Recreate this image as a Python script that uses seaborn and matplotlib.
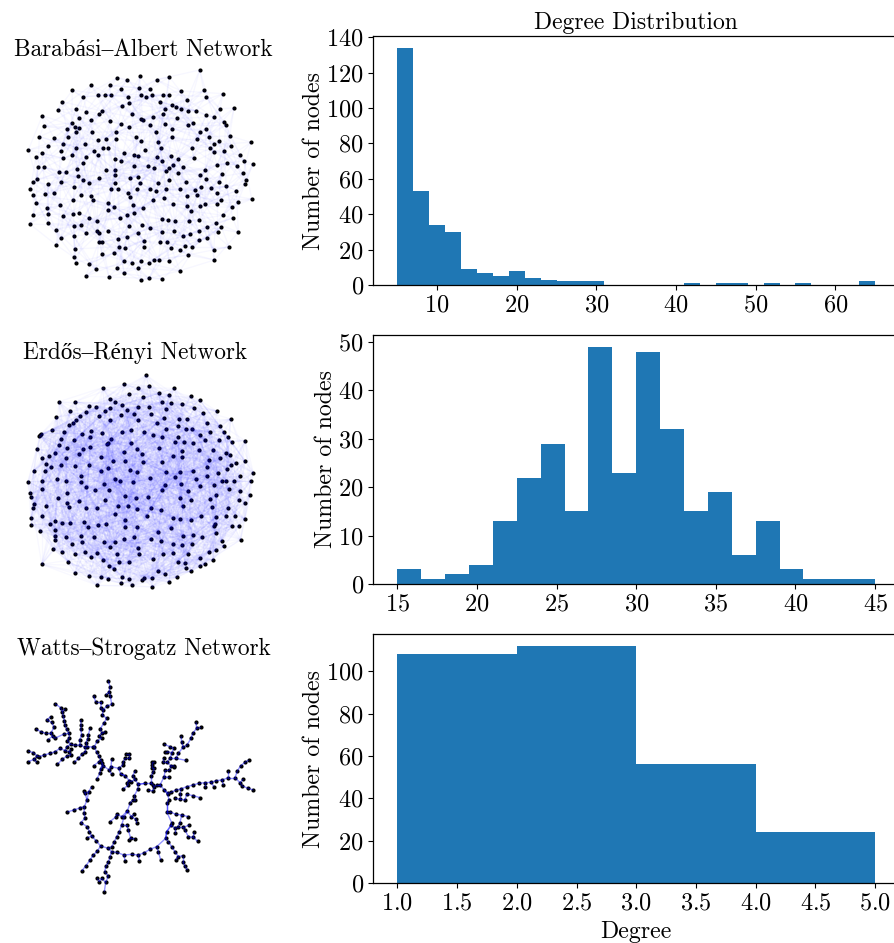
import numpy as np
import matplotlib
matplotlib.use("Agg")
import matplotlib.pyplot as plt
from matplotlib.collections import LineCollection
from matplotlib.ticker import MultipleLocator
import seaborn as sns

# Histogram counts
ba_edges = list(range(5, 67, 2))
ba_counts = [134, 53, 34, 30, 9, 7, 5, 8, 4, 3, 2, 2, 2, 0, 0, 0, 0, 0, 1, 0, 1, 1, 0, 1, 0, 1, 0, 0, 0, 2]
er_edges = [15 + 1.5 * i for i in range(21)]
er_counts = [3, 1, 2, 4, 13, 22, 29, 15, 49, 23, 48, 32, 15, 19, 6, 13, 3, 1, 1, 1]
ws_edges = [1, 2, 3, 4, 5]
ws_counts = [108, 112, 56, 24]

# Node positions (zoomed crop pixels)
ba_nodes = [(569,120),(322,143),(390,139),(478,141),(352,149),(440,149),(244,166),(299,166),(386,174),(333,177),(420,177),(187,181),(514,183),(581,181),
(265,194),(286,196),(303,196),(392,194),(425,196),(458,194),(476,194),(639,191),(354,200),(408,202),(219,200),(588,200),(531,209),(156,215),(358,220),(451,216),
(485,226),(335,227),(499,230),(512,236),(630,236),(672,234),(198,236),(143,240),(276,243),(228,246),(535,243),(558,242),(466,236),(268,252),(366,253),(97,257),
(588,255),(428,261),(459,252),(611,261),(208,265),(392,268),(398,270),(501,265),(244,271),(301,273),(185,278),(332,283),(421,284),(465,283),(550,280),(533,286),
(642,275),(647,286),(101,289),(196,292),(356,292),(170,297),(206,293),(487,298),(569,305),(588,298),(318,305),(247,307),(197,306),(437,305),(659,318),(88,320),
(132,324),(173,320),(379,322),(486,320),(288,326),(317,328),(265,330),(562,326),(596,320),(628,333),(613,343),(394,333),(444,337),(158,341),(225,341),(723,337),
(545,353),(114,349),(198,353),(278,353),(295,353),(601,355),(662,347),(453,355),(406,360),(55,360),(152,362),(251,364),(642,362),(611,366),(341,370),(96,370),
(187,375),(263,375),(373,375),(384,379),(482,377),(442,381),(691,375),(78,381),(227,380),(160,385),(316,387),(334,393),(505,387),(552,385),(457,394),(703,392),
(729,402),(219,400),(651,399),(621,404),(488,406),(476,413),(373,408),(415,408),(432,415),(519,412),(682,408),(84,412),(103,412),(201,417),(289,419),(315,421),
(586,419),(635,432),(700,429),(147,425),(169,425),(467,422),(505,430),(569,436),(203,438),(315,436),(383,441),(267,445),(361,443),(476,449),(527,457),(708,449),
(220,449),(81,447),(69,457),(152,457),(238,459),(314,459),(389,459),(443,458),(627,455),(588,447),(704,463),(114,463),(61,476),(192,472),(649,469),(572,472),
(603,474),(419,476),(556,480),(380,478),(304,478),(325,478),(467,478),(510,478),(437,482),(679,482),(133,489),(105,492),(69,496),(212,494),(354,489),(360,500),
(621,489),(560,496),(242,498),(189,510),(250,510),(461,505),(429,511),(530,498),(633,511),(725,507),(78,518),(295,520),(683,516),(489,523),(150,526),(622,523),
(370,526),(584,521),(571,528),(531,528),(312,530),(400,534),(111,534),(665,532),(295,541),(543,543),(190,551),(206,549),(351,555),(371,549),(69,555),(115,553),
(160,557),(639,556),(330,564),(238,564),(668,564),(261,572),(457,568),(474,570),(495,574),(536,572),(567,570),(115,580),(59,582),(191,587),(212,585),(617,578),
(358,589),(396,585),(634,591),(592,591),(421,595),(137,600),(191,618),(228,610),(261,603),(266,610),(295,603),(455,605),(493,602),(566,603),(685,607),(383,610),
(541,612),(623,607),(520,619),(352,622),(325,627),(154,625),(590,623),(568,631),(402,632),(266,637),(277,637),(449,637),(470,635),(139,645),(326,650),(345,654),
(401,652),(524,648),(547,650),(195,657),(484,655),(510,661),(611,660),(657,650),(276,673),(313,669),(534,675),(192,682),(431,690),(446,690),(393,692),(341,694),
(366,698),(478,694),(198,698),(613,690),(238,701),(417,700),(385,715),(320,715),(258,717),(510,722),(343,730),(227,739),(297,741),(417,745),(457,747),(392,751)]

er_nodes = [(409,121),(343,146),(417,153),(278,158),(385,158),(493,160),(476,180),(358,177),(447,175),(542,184),(400,186),(299,192),(569,195),(147,200),(196,200),
(316,200),(457,200),(484,205),(516,207),(238,212),(259,216),(299,220),(337,209),(384,217),(417,215),(553,220),(181,228),(229,230),(286,228),(352,224),(468,222),
(620,228),(373,236),(424,237),(333,241),(267,243),(209,243),(139,247),(578,235),(461,249),(508,252),(532,252),(383,256),(301,256),(197,254),(662,252),(190,263),
(177,271),(441,264),(590,263),(630,274),(503,274),(126,285),(162,292),(244,287),(215,297),(276,293),(337,290),(363,285),(402,290),(469,281),(547,281),(527,283),
(600,292),(94,296),(90,301),(88,304),(152,311),(428,300),(456,306),(569,301),(505,305),(641,291),(653,306),(304,313),(193,316),(240,307),(628,314),(585,314),
(666,321),(706,317),(146,331),(294,325),(362,323),(495,321),(522,320),(548,323),(291,328),(241,337),(220,342),(80,342),(170,340),(447,339),(381,341),(610,344),
(648,353),(134,353),(116,362),(208,358),(341,351),(397,357),(568,344),(515,347),(660,360),(95,369),(169,369),(272,367),(489,363),(515,366),(597,376),(631,370),
(677,384),(705,379),(107,386),(152,389),(238,389),(122,395),(346,378),(310,378),(400,381),(455,381),(295,400),(591,395),(652,402),(195,393),(662,391),(71,407),
(105,409),(360,404),(381,410),(272,409),(467,412),(509,411),(548,408),(623,414),(730,413),(214,423),(689,423),(590,423),(54,440),(97,438),(142,431),(169,437),
(314,431),(331,437),(370,442),(419,430),(496,426),(558,433),(636,438),(647,438),(673,438),(723,438),(212,442),(282,447),(466,450),(513,447),(229,456),(97,461),
(255,466),(296,465),(455,464),(535,468),(569,452),(613,449),(657,461),(691,467),(60,475),(64,487),(170,475),(344,483),(413,486),(619,481),(601,491),(510,488),
(720,481),(145,489),(207,497),(286,495),(379,490),(544,494),(688,495),(72,507),(170,503),(176,517),(108,512),(324,512),(353,512),(381,522),(229,519),(261,519),
(423,518),(452,526),(518,514),(607,517),(706,505),(655,518),(68,520),(95,543),(314,536),(410,543),(572,544),(617,547),(648,542),(676,542),(704,552),(63,550),
(489,549),(510,553),(543,554),(345,556),(223,561),(155,565),(181,563),(136,557),(120,566),(288,566),(263,570),(345,575),(381,577),(235,577),(64,569),(90,589),
(134,584),(611,574),(616,567),(665,574),(687,574),(445,592),(482,578),(617,593),(213,602),(168,605),(134,604),(135,614),(371,607),(253,607),(423,612),(343,613),
(692,614),(549,601),(520,603),(577,606),(635,618),(185,627),(217,621),(283,622),(314,620),(454,618),(490,628),(516,631),(546,626),(300,636),(130,643),(384,638),
(642,634),(155,652),(224,651),(261,653),(388,658),(244,665),(196,658),(490,654),(459,656),(534,656),(598,650),(618,645),(321,658),(279,675),(173,680),(430,671),
(571,670),(356,682),(328,681),(503,681),(525,685),(609,675),(95,688),(585,688),(570,694),(296,694),(313,702),(194,715),(445,708),(527,700),(464,718),(543,708),
(236,723),(273,726),(294,732),(337,726),(358,732),(402,728),(397,736),(426,730),(500,727),(476,741),(262,751),(334,745),(366,751),(427,756)]

ws_nodes = [(295,152),(300,170),(297,186),(288,194),(251,197),(301,198),(257,216),(274,216),(305,223),(290,228),(272,235),(280,240),(277,255),(290,265),(281,280),
(271,296),(285,305),(276,310),(267,318),(262,332),(275,325),(253,350),(260,367),(266,377),(272,390),(266,396),(251,407),(277,400),(135,221),(152,233),(165,237),
(157,245),(160,258),(122,260),(110,270),(125,277),(163,272),(212,270),(213,285),(132,292),(78,297),(92,305),(107,310),(122,310),(128,318),(165,284),(170,298),
(134,325),(113,330),(162,312),(177,310),(178,323),(172,332),(212,298),(240,295),(215,315),(235,315),(209,330),(233,327),(228,338),(210,345),(195,346),(232,350),
(248,351),(182,343),(170,350),(150,355),(135,365),(120,370),(103,375),(87,380),(55,363),(70,368),(55,395),(72,388),(82,378),(80,397),(182,358),(178,365),(165,362),
(170,378),(183,375),(157,388),(142,403),(225,352),(225,365),(216,372),(205,385),(193,397),(349,371),(358,371),(345,385),(358,385),(305,388),(340,395),(338,405),
(280,408),(303,410),(326,415),(298,420),(305,433),(332,432),(272,417),(269,430),(260,448),(245,470),(236,485),(222,484),(225,490),(231,510),(223,530),(209,534),
(191,540),(172,546),(222,550),(225,565),(212,578),(232,590),(238,605),(245,618),(232,623),(258,632),(272,648),(295,655),(262,663),(250,675),(240,690),(228,707),
(215,723),(376,422),(345,437),(368,437),(358,452),(352,460),(375,448),(363,455),(355,465),(385,463),(340,477),(383,478),(373,497),(368,510),(360,520),(352,543),
(375,510),(320,553),(335,560),(300,575),(342,562),(318,560),(372,553),(364,560),(378,568),(380,580),(350,585),(355,600),(362,625),(358,630),(374,627),(335,585),
(328,605),(320,620),(313,635),(305,650),(426,395),(432,395),(426,405),(432,415),(426,415),(430,425),(424,437),(405,460),(424,460),(430,465),(442,465),(415,480),
(428,483),(433,470),(463,343),(480,350),(491,355),(471,365),(465,365),(486,368),(461,385),(480,385),(471,397),(460,397),(492,407),(484,408),(478,420),(462,441),
(478,442),(466,420),(450,465),(463,480),(473,493),(558,277),(573,292),(560,295),(548,310),(543,325),(513,319),(531,345),(515,335),(519,352),(505,370),(498,385),
(527,391),(492,410),(716,390),(705,397),(692,407),(682,423),(655,424),(675,443),(655,443),(636,450),(618,452),(603,457),(585,458),(566,460),(549,465),(530,470),
(512,477),(497,480),(484,487),(475,490),(640,465),(612,470),(585,470),(700,447),(690,458),(697,468),(715,475),(730,480),(510,493),(530,493),(550,497),(570,503),
(495,505),(510,508),(525,510),(477,510),(470,520),(480,545),(470,545),(497,553),(515,555),(535,560),(485,578),(483,585),(510,578),(538,585),(520,592),(495,595),
(503,592),(525,600),(552,607),(495,608),(535,620),(550,622),(563,634),(470,605),(467,625),(475,635),(485,650),(440,650),(420,658),(403,668),(385,675),(388,692),
(365,673),(342,675),(345,692),(320,667),(305,665),(300,680),(295,697),(288,708),(284,725),(262,745),(275,745),(295,738),(268,755),(287,757),(283,785),(445,665),
(452,690),(495,665),(505,680),(518,677),(497,690),(518,695),(525,708),(532,720)]

# links the tree misses, the ring of the small network
ws_extra = [((467,625),(440,650)), ((385,463),(405,460)), ((442,465),(450,465)), ((463,480),(473,493)),
            ((277,400),(272,417)), ((332,432),(345,437)), ((231,510),(236,485)), ((470,520),(470,545)),
            ((470,545),(485,578)), ((470,605),(485,585)), ((470,605),(467,625)), ((352,543),(335,560))]

W, H = 895, 943
BAR = "#1f77b4"
plt.rcParams['font.family'] = ['cmr10', 'Liberation Serif']
plt.rcParams['axes.formatter.use_mathtext'] = True
plt.rcParams['axes.unicode_minus'] = False
plt.rcParams['axes.linewidth'] = 0.9


def px_axes(left, top, w, h):
    return fig.add_axes([left / W, 1 - (top + h) / H, w / W, h / H])


def inward_pairs(nodes, k, skip):
    # the faint web: each node links to k nodes lying closer to the middle,
    # so the links pile up in the centre as they do in the picture
    pts = np.array(nodes, dtype=float)
    mid = pts.mean(axis=0)
    r = np.linalg.norm(pts - mid, axis=1)
    out = []
    for i, p in enumerate(pts):
        inner = np.where(r < r[i])[0]
        if len(inner) == 0:
            continue
        d = np.linalg.norm(pts[inner] - p, axis=1)
        for j in inner[np.argsort(d)][::skip][:k]:
            out.append((p, pts[j]))
    return out


def tree_pairs(nodes):
    # nearest neighbour tree, follows the branches of the small network
    pts = np.array(nodes, dtype=float)
    seen = [0]
    rest = list(range(1, len(pts)))
    out = []
    while rest:
        d = np.linalg.norm(pts[seen][:, None] - pts[rest][None, :], axis=2)
        a, b = np.unravel_index(d.argmin(), d.shape)
        out.append((pts[seen[a]], pts[rest[b]]))
        seen.append(rest.pop(b))
    return out


def draw_network(box, nodes, pairs, alpha, lw=1.0):
    ax = px_axes(*box)
    ax.add_collection(LineCollection(pairs, colors='blue', alpha=alpha, linewidths=lw))
    xs = [n[0] for n in nodes]
    ys = [n[1] for n in nodes]
    sns.scatterplot(x=xs, y=ys, ax=ax, color='black', s=9, linewidth=0, legend=False)
    ax.set_xlim(0, box[2] * 3)
    ax.set_ylim(box[3] * 3, 0)
    ax.axis('off')


def draw_hist(top, edges, counts, xstep, ystep):
    ax = px_axes(373.5, top, 525.5, 249)
    sns.histplot(x=edges[:-1], weights=counts, bins=edges, ax=ax, color=BAR, alpha=1, linewidth=0)
    ax.set_ylabel('Number of nodes', fontsize=17.2, labelpad=1)
    ax.tick_params(labelsize=17.5)
    ax.xaxis.set_major_locator(MultipleLocator(xstep))
    ax.yaxis.set_major_locator(MultipleLocator(ystep))
    return ax


fig = plt.figure(figsize=(W / 100, H / 100), dpi=100)

draw_network((10, 30, 260, 260), ba_nodes, inward_pairs(ba_nodes, 5, 4), 0.03)
draw_network((10, 335, 260, 260), er_nodes, inward_pairs(er_nodes, 15, 3), 0.028)
draw_network((10, 630, 260, 270), ws_nodes, tree_pairs(ws_nodes) + ws_extra, 0.42)

fig.text(143.5 / W, 1 - 50 / H, 'Barabási–Albert Network', ha='center', va='center', fontsize=16.8)
fig.text(135.5 / W, 1 - 353 / H, 'Erdős–Rényi Network', ha='center', va='center', fontsize=16.8)
fig.text(143.5 / W, 1 - 649 / H, 'Watts–Strogatz Network', ha='center', va='center', fontsize=16.8)

ax1 = draw_hist(36, ba_edges, ba_counts, 10, 20)
ax1.set_title('Degree Distribution', fontsize=17, pad=5)
ax2 = draw_hist(335, er_edges, er_counts, 5, 10)
ax3 = draw_hist(634, ws_edges, ws_counts, 0.5, 20)
ax3.set_xlabel('Degree', fontsize=17.2, labelpad=4.5)

fig.savefig('out.png', dpi=100)
